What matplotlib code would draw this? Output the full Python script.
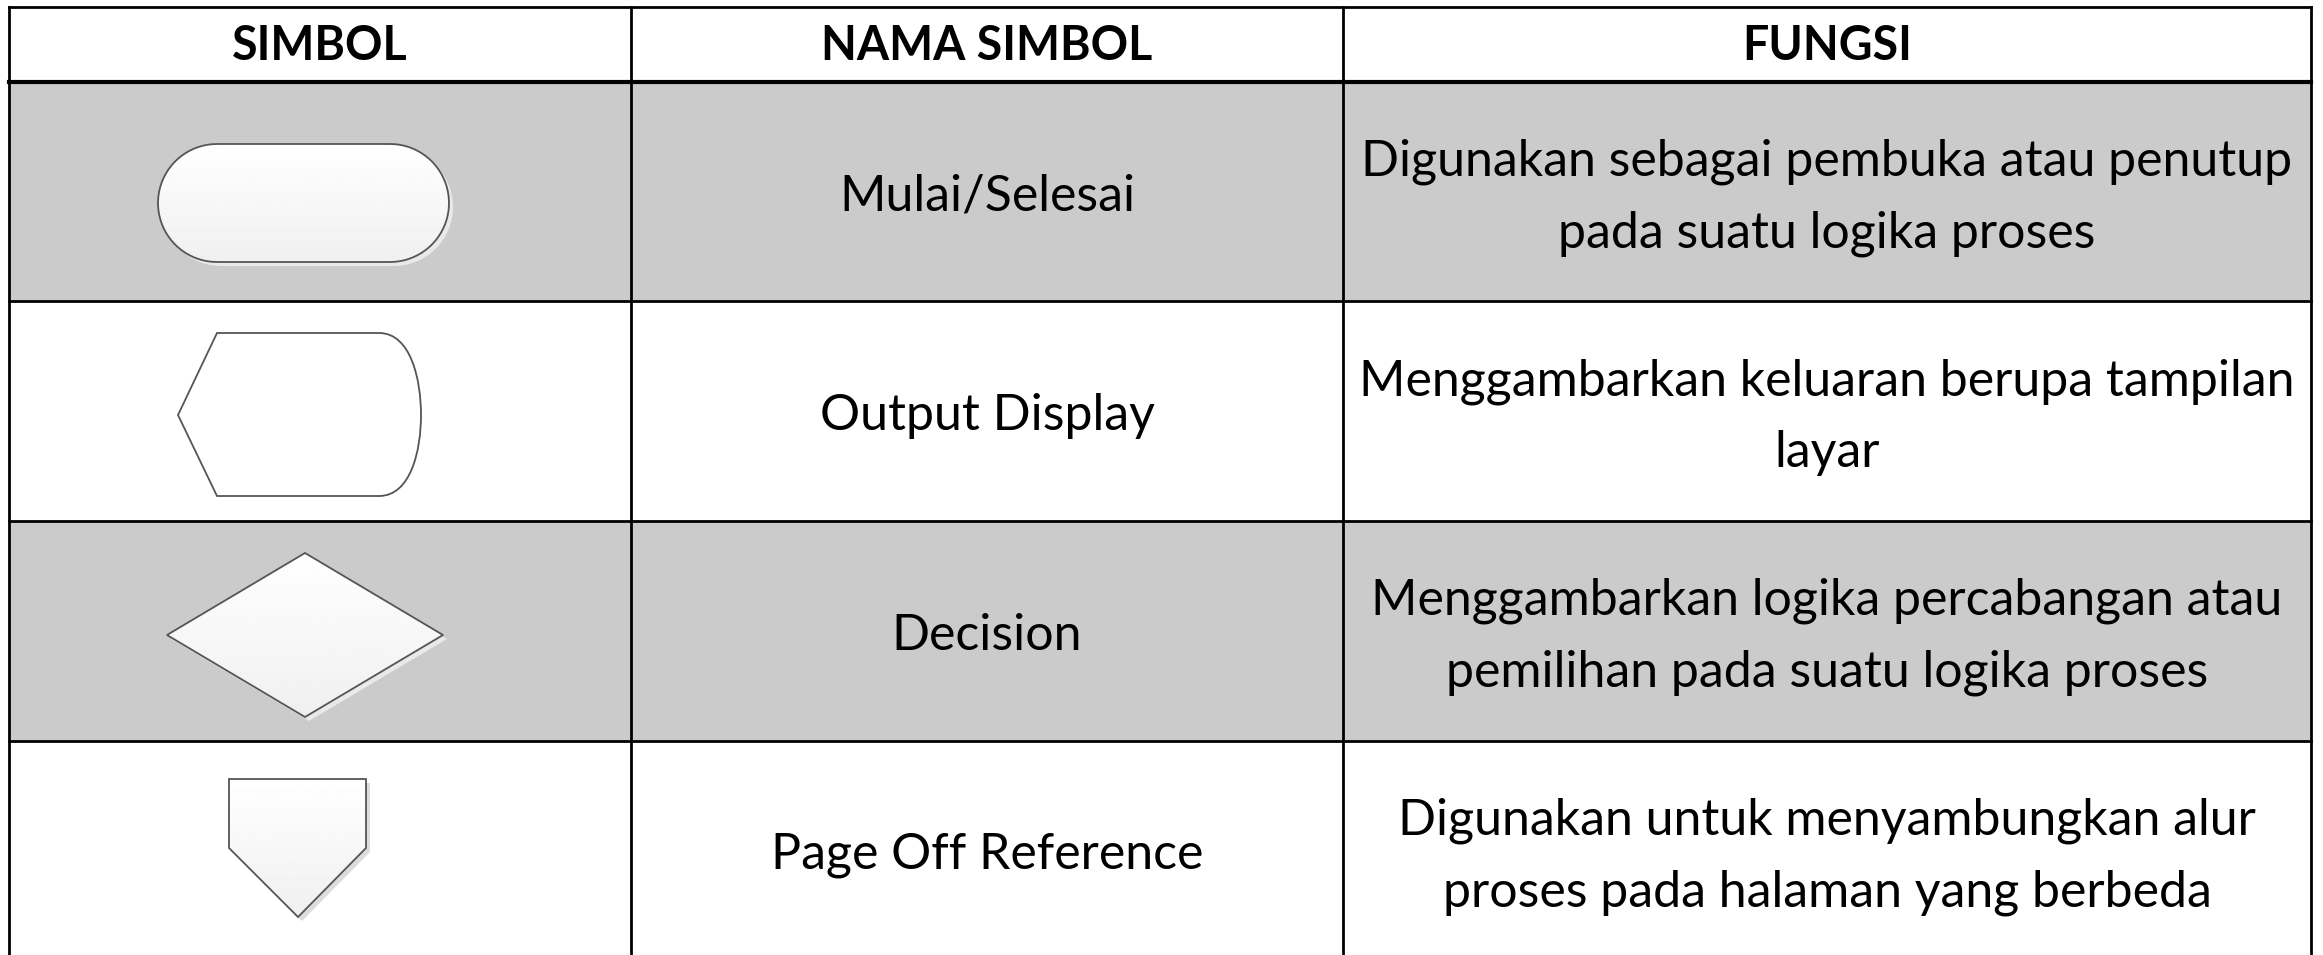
import matplotlib
matplotlib.use("Agg")
import matplotlib.pyplot as plt
import numpy as np
from matplotlib.path import Path
from matplotlib.patches import PathPatch, Rectangle

# ---- table content ----
headers = ["SIMBOL", "NAMA SIMBOL", "FUNGSI"]
symbol_names = ["Mulai/Selesai", "Output Display", "Decision", "Page Off Reference"]
functions = [
    "Digunakan sebagai pembuka atau penutup\npada suatu logika proses",
    "Menggambarkan keluaran berupa tampilan\nlayar",
    "Menggambarkan logika percabangan atau\npemilihan pada suatu logika proses",
    "Digunakan untuk menyambungkan alur\nproses pada halaman yang berbeda",
]
shapes = ["terminal", "display", "decision", "offpage"]
row_shaded = [True, False, True, False]

# ---- layout (pixels) ----
W, H = 2323, 955
col_x = [9, 631, 1343, 2311]
header_top, header_bot = 7, 82
row_h = 219.5
row_y = [header_bot + i * row_h for i in range(len(symbol_names) + 1)]

FONT = "Lato"
FS_HEAD = 33.5
FS = 36
SHADE = "#cbcbcb"
EDGE = "#555555"

fig = plt.figure(figsize=(W / 100, H / 100), dpi=100)
ax = fig.add_axes([0, 0, 1, 1])
ax.set_xlim(0, W)
ax.set_ylim(H, 0)
ax.axis("off")

# backgrounds
for i, shaded in enumerate(row_shaded):
    if shaded:
        ax.add_patch(Rectangle((col_x[0], row_y[i]), col_x[-1] - col_x[0], row_h,
                               facecolor=SHADE, edgecolor="none", zorder=0))

# grid lines
lw = 2.0
ax.plot([col_x[0], col_x[-1]], [header_top, header_top], color="black", lw=lw, zorder=5)
ax.plot([col_x[0], col_x[-1]], [header_bot, header_bot], color="black", lw=3.0, zorder=5)
for y in row_y[1:]:
    ax.plot([col_x[0], col_x[-1]], [y, y], color="black", lw=lw, zorder=5)
for x in col_x:
    ax.plot([x, x], [header_top, H + 10], color="black", lw=lw, zorder=5)

# header text
col_c = [(col_x[i] + col_x[i + 1]) / 2 for i in range(3)]
for c, t in zip(col_c, headers):
    ax.text(c, (header_top + header_bot) / 2 + 2, t, ha="center", va="center",
            fontsize=FS_HEAD, fontweight="bold", family=FONT, color="black", zorder=6)

# row text
line_gap = 72
for i, (nm, fn) in enumerate(zip(symbol_names, functions)):
    yc = (row_y[i] + row_y[i + 1]) / 2
    ax.text(col_c[1], yc + 5, nm, ha="center", va="center", fontsize=FS,
            family=FONT, color="black", zorder=6)
    lines = fn.split("\n")
    n = len(lines)
    for k, ln in enumerate(lines):
        ax.text(col_c[2], yc + 6 + (k - (n - 1) / 2) * line_gap, ln, ha="center",
                va="center", fontsize=FS, family=FONT, color="black", zorder=6)

# ---- symbol shapes ----
grad = np.linspace(1.0, 0.94, 256).reshape(-1, 1)


def draw_shape(path, shaded_bg, gradient=True, shadow=True):
    if shadow:
        sh = PathPatch(path.transformed(matplotlib.transforms.Affine2D().translate(4, 4)),
                       facecolor="#e9e9e9" if shaded_bg else "#dcdcdc",
                       edgecolor="none", zorder=2)
        ax.add_patch(sh)
    fill = PathPatch(path, facecolor="white", edgecolor="none", zorder=3)
    ax.add_patch(fill)
    if gradient:
        ext = path.get_extents()
        im = ax.imshow(grad, cmap="gray", vmin=0, vmax=1, aspect="auto",
                       extent=[ext.x0, ext.x1, ext.y1, ext.y0], zorder=3.5,
                       interpolation="bilinear")
        im.set_clip_path(fill)
    ax.add_patch(PathPatch(path, facecolor="none", edgecolor=EDGE, lw=1.3, zorder=4))


for i, s in enumerate(shapes):
    if s == "terminal":
        x0, x1, y0, y1 = 158, 449, 144, 262
        r = (y1 - y0) / 2
        verts = [(x0 + r, y0), (x1 - r, y0)]
        codes = [Path.MOVETO, Path.LINETO]
        th = np.linspace(-np.pi / 2, np.pi / 2, 40)
        for t in th[1:]:
            verts.append((x1 - r + r * np.cos(t), (y0 + y1) / 2 + r * np.sin(t)))
            codes.append(Path.LINETO)
        verts.append((x0 + r, y1)); codes.append(Path.LINETO)
        th = np.linspace(np.pi / 2, 3 * np.pi / 2, 40)
        for t in th[1:]:
            verts.append((x0 + r + r * np.cos(t), (y0 + y1) / 2 + r * np.sin(t)))
            codes.append(Path.LINETO)
        codes[-1] = Path.CLOSEPOLY
        draw_shape(Path(verts, codes), row_shaded[i])
    elif s == "display":
        verts = [(217, 333), (379, 333), (411, 333), (421, 380), (421, 415),
                 (421, 450), (411, 496), (379, 496), (217, 496), (178, 415), (217, 333)]
        codes = [Path.MOVETO, Path.LINETO, Path.CURVE4, Path.CURVE4, Path.CURVE4,
                 Path.CURVE4, Path.CURVE4, Path.CURVE4, Path.LINETO, Path.LINETO,
                 Path.CLOSEPOLY]
        draw_shape(Path(verts, codes), row_shaded[i], gradient=False, shadow=False)
    elif s == "decision":
        verts = [(305, 553), (443, 635), (305, 717), (167, 635), (305, 553)]
        codes = [Path.MOVETO, Path.LINETO, Path.LINETO, Path.LINETO, Path.CLOSEPOLY]
        draw_shape(Path(verts, codes), row_shaded[i])
    elif s == "offpage":
        verts = [(229, 779), (366, 779), (366, 848), (298, 917), (229, 848), (229, 779)]
        codes = [Path.MOVETO, Path.LINETO, Path.LINETO, Path.LINETO, Path.LINETO,
                 Path.CLOSEPOLY]
        draw_shape(Path(verts, codes), row_shaded[i])

fig.savefig("out.png", dpi=100, facecolor="white")
